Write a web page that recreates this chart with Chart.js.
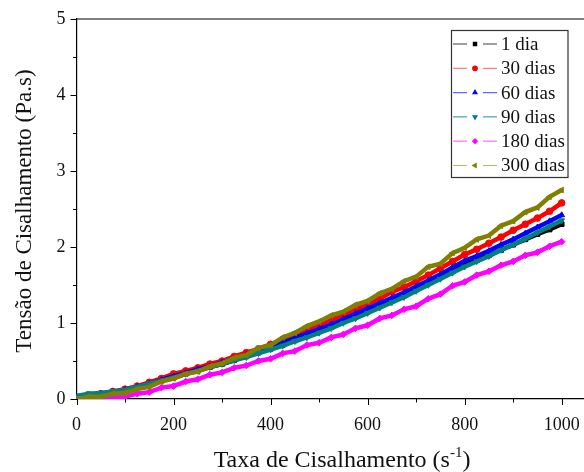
<!DOCTYPE html>
<html>
<head>
<meta charset="utf-8">
<script src="https://cdn.jsdelivr.net/npm/chart.js@4/dist/chart.umd.min.js"></script>
<style>
  html, body { margin: 0; padding: 0; background: #fff; }
  #chart { display: block; }
</style>
</head>
<body>
<canvas id="chart" width="584" height="472"></canvas>
<script>
// Shear rate (s^-1) sampled every 25 units
const shearRate = [0, 25, 50, 75, 100, 125, 150, 175, 200, 225, 250, 275, 300, 325, 350, 375, 400,
  425, 450, 475, 500, 525, 550, 575, 600, 625, 650, 675, 700, 725, 750, 775, 800, 825, 850, 875,
  900, 925, 950, 975, 1000];

// Shear stress (Pa.s) for each storage time
const dia1 = [0.03, 0.06, 0.07, 0.09, 0.11, 0.15, 0.19, 0.24, 0.28, 0.33, 0.37, 0.42, 0.46, 0.51,
  0.56, 0.61, 0.66, 0.71, 0.77, 0.83, 0.89, 0.95, 1.02, 1.08, 1.15, 1.22, 1.29, 1.36, 1.44, 1.52,
  1.60, 1.68, 1.76, 1.83, 1.89, 1.96, 2.03, 2.10, 2.17, 2.23, 2.30];
const dias30 = [0.01, 0.04, 0.07, 0.10, 0.13, 0.17, 0.22, 0.27, 0.33, 0.37, 0.41, 0.46, 0.50, 0.56,
  0.61, 0.66, 0.72, 0.78, 0.85, 0.91, 0.98, 1.04, 1.11, 1.18, 1.25, 1.32, 1.41, 1.47, 1.55, 1.63,
  1.72, 1.81, 1.90, 1.97, 2.05, 2.13, 2.22, 2.30, 2.38, 2.47, 2.58];
const dias60 = [0.02, 0.05, 0.07, 0.09, 0.12, 0.16, 0.20, 0.25, 0.30, 0.34, 0.39, 0.43, 0.48, 0.53,
  0.58, 0.63, 0.68, 0.74, 0.80, 0.86, 0.92, 0.98, 1.05, 1.12, 1.19, 1.26, 1.33, 1.40, 1.48, 1.56,
  1.64, 1.73, 1.82, 1.88, 1.95, 2.03, 2.10, 2.18, 2.26, 2.34, 2.42];
const dias90 = [0.04, 0.07, 0.08, 0.10, 0.12, 0.16, 0.20, 0.24, 0.28, 0.33, 0.37, 0.42, 0.46, 0.51,
  0.55, 0.60, 0.65, 0.70, 0.76, 0.81, 0.87, 0.93, 1.00, 1.06, 1.13, 1.20, 1.27, 1.34, 1.42, 1.50,
  1.58, 1.66, 1.74, 1.81, 1.88, 1.96, 2.03, 2.11, 2.19, 2.27, 2.35];
const dias180 = [0.00, 0.01, 0.01, 0.03, 0.03, 0.07, 0.09, 0.15, 0.17, 0.23, 0.26, 0.32, 0.35, 0.41,
  0.44, 0.50, 0.53, 0.60, 0.63, 0.71, 0.74, 0.81, 0.85, 0.93, 0.97, 1.06, 1.10, 1.18, 1.22, 1.32,
  1.38, 1.49, 1.54, 1.63, 1.68, 1.76, 1.81, 1.89, 1.93, 2.01, 2.07];
const dias300 = [0.00, 0.03, 0.03, 0.07, 0.08, 0.13, 0.16, 0.23, 0.27, 0.33, 0.36, 0.43, 0.47, 0.54,
  0.58, 0.67, 0.71, 0.81, 0.87, 0.96, 1.02, 1.10, 1.15, 1.24, 1.29, 1.39, 1.45, 1.55, 1.61, 1.74,
  1.78, 1.92, 1.99, 2.10, 2.15, 2.28, 2.34, 2.46, 2.52, 2.66, 2.75];

const seriesLabels = ['1 dia', '30 dias', '60 dias', '90 dias', '180 dias', '300 dias'];
const seriesValues = [dia1, dias30, dias60, dias90, dias180, dias300];
const seriesColors = ['#000000', '#ff0000', '#0000ff', '#008080', '#ff00ff', '#808000'];
const lineColors = ['rgba(0,0,0,0.75)', 'rgba(255,0,0,0.5)', 'rgba(0,0,255,0.6)',
  'rgba(0,128,128,0.7)', 'rgba(255,0,255,0.55)', 'rgba(128,128,0,0.55)'];
const markers = [
  { style: 'rect', rotation: 0 },
  { style: 'circle', rotation: 0 },
  { style: 'triangle', rotation: 0 },
  { style: 'triangle', rotation: 180 },
  { style: 'rectRot', rotation: 0 },
  { style: 'triangle', rotation: -90 }
];

const xTickLabels = [0, 200, 400, 600, 800, 1000];
const yTickLabels = [0, 1, 2, 3, 4, 5];

const FONT = "'Liberation Serif', 'Times New Roman', serif";

const datasets = seriesValues.map((vals, i) => ({
  label: seriesLabels[i],
  data: shearRate.map((x, j) => ({ x: x, y: vals[j] })),
  borderColor: seriesColors[i],
  backgroundColor: seriesColors[i],
  borderWidth: 4.5,
  pointStyle: markers[i].style,
  rotation: markers[i].rotation,
  pointRadius: 3.3,
  pointBorderWidth: 1,
  tension: 0,
  order: seriesValues.length - i // later series sit on top
}));

// minor + major tick marks and the top frame line
const frameTicks = {
  id: 'frameTicks',
  afterDraw(chart) {
    const { ctx, chartArea, scales } = chart;
    ctx.save();
    ctx.strokeStyle = '#000';
    ctx.lineWidth = 1.2;
    ctx.beginPath();
    ctx.moveTo(chartArea.left, chartArea.top);
    ctx.lineTo(chart.width, chartArea.top);
    ctx.stroke();
    ctx.lineWidth = 1;
    scales.x.ticks.forEach(t => {
      const px = Math.round(scales.x.getPixelForValue(t.value)) + 0.5;
      const len = xTickLabels.includes(t.value) ? 6 : 3.5;
      ctx.beginPath();
      ctx.moveTo(px, chartArea.bottom);
      ctx.lineTo(px, chartArea.bottom + len);
      ctx.stroke();
    });
    scales.y.ticks.forEach(t => {
      const py = Math.round(scales.y.getPixelForValue(t.value)) + 0.5;
      const len = yTickLabels.includes(t.value) ? 6 : 3.5;
      ctx.beginPath();
      ctx.moveTo(chartArea.left, py);
      ctx.lineTo(chartArea.left - len, py);
      ctx.stroke();
    });
    ctx.restore();
  }
};

// axis titles (x title carries a superscript)
const axisTitles = {
  id: 'axisTitles',
  afterDraw(chart) {
    const { ctx } = chart;
    ctx.save();
    ctx.fillStyle = '#111';
    ctx.textBaseline = 'alphabetic';
    const size = 24;
    const supSize = 15;
    const main = 'Taxa de Cisalhamento (s';
    const sup = '-1';
    const tail = ')';
    ctx.font = size + 'px ' + FONT;
    const w1 = ctx.measureText(main).width;
    const w3 = ctx.measureText(tail).width;
    ctx.font = supSize + 'px ' + FONT;
    const w2 = ctx.measureText(sup).width;
    const total = w1 + w2 + w3;
    const x0 = 342 - total / 2;
    const base = 467;
    ctx.font = size + 'px ' + FONT;
    ctx.textAlign = 'left';
    ctx.fillText(main, x0, base);
    ctx.font = supSize + 'px ' + FONT;
    ctx.fillText(sup, x0 + w1, base - 10);
    ctx.font = size + 'px ' + FONT;
    ctx.fillText(tail, x0 + w1 + w2, base);

    ctx.font = '23px ' + FONT;
    ctx.translate(25, 211);
    ctx.rotate(-Math.PI / 2);
    ctx.textAlign = 'center';
    ctx.textBaseline = 'middle';
    ctx.fillText('Tensão de Cisalhamento (Pa.s)', 0, 0);
    ctx.restore();
  }
};

// boxed legend with line-marker-line samples
const boxLegend = {
  id: 'boxLegend',
  afterDraw(chart) {
    const { ctx } = chart;
    const left = 451.5, top = 30.5, width = 116.5, height = 147;
    const rowH = 24.3, firstRow = 44;
    ctx.save();
    ctx.fillStyle = '#fff';
    ctx.fillRect(left, top, width, height);
    ctx.strokeStyle = '#333';
    ctx.lineWidth = 1.2;
    ctx.strokeRect(left, top, width, height);
    ctx.font = '19px ' + FONT;
    ctx.textBaseline = 'middle';
    ctx.textAlign = 'left';
    seriesLabels.forEach((label, i) => {
      const y = firstRow + i * rowH;
      ctx.strokeStyle = lineColors[i];
      ctx.lineWidth = 1.2;
      ctx.beginPath();
      ctx.moveTo(453, y); ctx.lineTo(467, y);
      ctx.moveTo(483, y); ctx.lineTo(497, y);
      ctx.stroke();
      ctx.fillStyle = seriesColors[i];
      ctx.strokeStyle = seriesColors[i];
      Chart.helpers.drawPoint(ctx, {
        pointStyle: markers[i].style,
        rotation: markers[i].rotation,
        radius: 2.3,
        borderWidth: 1
      }, 475, y);
      ctx.fillStyle = '#111';
      ctx.fillText(label, 501, y + 1);
    });
    ctx.restore();
  }
};

new Chart(document.getElementById('chart'), {
  type: 'line',
  data: { datasets: datasets },
  options: {
    responsive: false,
    animation: false,
    layout: { autoPadding: false, padding: { top: 19, right: 0, bottom: 0, left: 0 } },
    plugins: { legend: { display: false }, tooltip: { enabled: false } },
    scales: {
      x: {
        type: 'linear',
        min: 0,
        max: 1046,
        // tick marks are drawn by frameTicks; tickLength only spaces the labels
        grid: { display: false, tickLength: 15 },
        border: { display: true, color: '#000', width: 1.2 },
        ticks: {
          stepSize: 100,
          includeBounds: false,
          autoSkip: false,
          maxRotation: 0,
          padding: 0,
          color: '#111',
          font: { family: FONT, size: 18 },
          callback: v => (xTickLabels.includes(v) ? String(v) : '')
        },
        afterFit: s => { s.height = 73; }
      },
      y: {
        type: 'linear',
        min: 0,
        max: 5,
        grid: { display: false, tickLength: 6 },
        border: { display: true, color: '#000', width: 1.2 },
        ticks: {
          stepSize: 0.5,
          autoSkip: false,
          padding: 5,
          color: '#111',
          font: { family: FONT, size: 18 },
          callback: v => (yTickLabels.includes(v) ? String(v) : '')
        },
        afterFit: s => { s.width = 76.5; }
      }
    }
  },
  plugins: [frameTicks, axisTitles, boxLegend]
});
</script>
</body>
</html>
